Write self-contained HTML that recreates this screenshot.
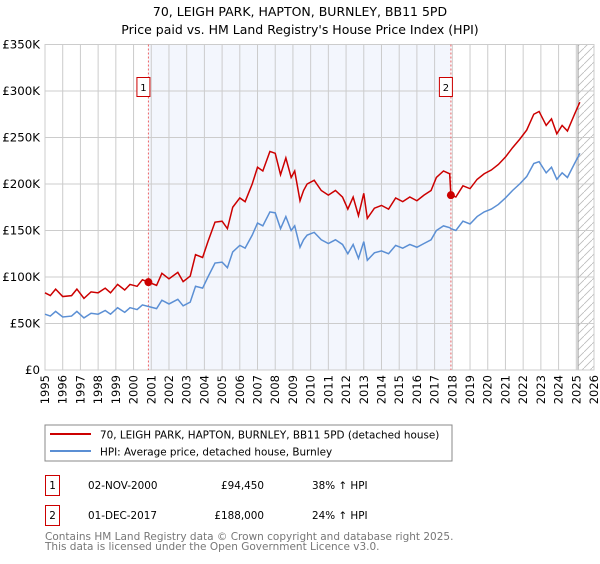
<!DOCTYPE html>
<html><head><meta charset="utf-8"><style>
body{margin:0;background:#fff;font-family:"DejaVu Sans","Liberation Sans",sans-serif;}
svg text{font-family:"DejaVu Sans","Liberation Sans",sans-serif;}
</style></head><body>
<svg id="c" width="600" height="560" xmlns="http://www.w3.org/2000/svg">
<defs><pattern id="hatch" patternUnits="userSpaceOnUse" width="8" height="8"><path d="M0,8 L8,0" stroke="#bbb" stroke-width="0.8"/></pattern></defs>
<text x="300" y="16" text-anchor="middle" font-size="12.5">70, LEIGH PARK, HAPTON, BURNLEY, BB11 5PD</text>
<text x="300" y="34" text-anchor="middle" font-size="12.5">Price paid vs. HM Land Registry's House Price Index (HPI)</text>
<g id="plot"></g>
<rect x="45" y="425" width="407" height="36" fill="#fff" stroke="#888"/>
<line x1="50" y1="434" x2="91" y2="434" stroke="#cc0000" stroke-width="2"/>
<text x="100" y="438.5" font-size="10.4">70, LEIGH PARK, HAPTON, BURNLEY, BB11 5PD (detached house)</text>
<line x1="50" y1="451" x2="91" y2="451" stroke="#5b8fd4" stroke-width="2"/>
<text x="100" y="455.5" font-size="10.4">HPI: Average price, detached house, Burnley</text>
<g>
<rect x="45.5" y="475.5" width="14" height="20" fill="#fff" stroke="#cc0000"/>
<text x="52.5" y="489" text-anchor="middle" font-size="10.4">1</text>
<text x="88" y="489" font-size="10.4">02-NOV-2000</text>
<text x="264" y="489" text-anchor="end" font-size="10.4">£94,450</text>
<text x="312" y="489" font-size="10.4">38% ↑ HPI</text></g>
<g>
<rect x="45.5" y="505.5" width="14" height="20" fill="#fff" stroke="#cc0000"/>
<text x="52.5" y="519" text-anchor="middle" font-size="10.4">2</text>
<text x="88" y="519" font-size="10.4">01-DEC-2017</text>
<text x="264" y="519" text-anchor="end" font-size="10.4">£188,000</text>
<text x="312" y="519" font-size="10.4">24% ↑ HPI</text></g>
<text x="45" y="540" font-size="10.5" fill="#777">Contains HM Land Registry data © Crown copyright and database right 2025.</text>
<text x="45" y="550" font-size="10.5" fill="#777">This data is licensed under the Open Government Licence v3.0.</text>
</svg>
<script>
const years=[1995.0,1995.3,1995.6,1996.0,1996.5,1996.8,1997.2,1997.6,1998.0,1998.4,1998.7,1999.1,1999.5,1999.8,2000.2,2000.5,2000.9,2001.3,2001.6,2002.0,2002.5,2002.8,2003.2,2003.5,2003.9,2004.2,2004.6,2005.0,2005.3,2005.6,2006.0,2006.3,2006.7,2007.0,2007.3,2007.7,2008.0,2008.3,2008.6,2008.9,2009.1,2009.4,2009.6,2009.8,2010.2,2010.6,2011.0,2011.4,2011.8,2012.1,2012.4,2012.7,2013.0,2013.2,2013.6,2014.0,2014.4,2014.8,2015.2,2015.6,2016.0,2016.4,2016.8,2017.1,2017.5,2017.85,2017.92,2018.2,2018.6,2019.0,2019.4,2019.8,2020.2,2020.6,2021.0,2021.4,2021.8,2022.2,2022.6,2022.9,2023.3,2023.6,2023.9,2024.2,2024.5,2024.9,2025.2];
const hpi=[60,58,63,57,58,63,56,61,60,64,60,67,62,67,65,70,68,66,75,71,76,69,73,90,88,100,115,116,110,127,134,131,145,158,155,170,169,152,165,150,155,132,140,145,148,140,136,140,135,125,135,120,138,118,126,128,125,134,131,135,132,136,140,150,155,153,152,150,160,157,165,170,173,178,185,193,200,208,222,224,212,218,205,212,207,222,233];
const price=[83,80,87,79,80,87,77,84,83,88,83,92,86,92,90,97,94,91,104,98,105,95,101,124,121,138,159,160,152,175,185,181,200,218,214,235,233,210,228,207,214,182,193,200,204,193,188,193,186,173,186,166,190,163,174,177,173,185,181,186,182,188,193,207,214,211,188,186,198,195,205,211,215,221,229,239,248,258,275,278,263,270,254,263,257,275,288];
const yTicks=[0,50,100,150,200,250,300,350];
const yTickLabels=["£0","£50K","£100K","£150K","£200K","£250K","£300K","£350K"];
const xTicks=[1995,1996,1997,1998,1999,2000,2001,2002,2003,2004,2005,2006,2007,2008,2009,2010,2011,2012,2013,2014,2015,2016,2017,2018,2019,2020,2021,2022,2023,2024,2025,2026];
const saleYears=[2000.84,2017.92];
const salePrices=[94.45,188];
const saleLabels=["1","2"];
const hatchStart=2025.1;

const L=45,R=594,T=44.5,B=370;
const X=y=>L+(y-1995)/(2026-1995)*(R-L);
const Y=v=>B-v/350*(B-T);
const NS="http://www.w3.org/2000/svg";
const g=document.getElementById('plot');
function mk(tag,attrs,parent){const e=document.createElementNS(NS,tag);for(const k in attrs)e.setAttribute(k,attrs[k]);(parent||g).appendChild(e);return e;}

let e=mk('rect',{x:X(saleYears[0]),y:T,width:X(saleYears[1])-X(saleYears[0]),height:B-T,fill:'#f3f6fd'});


e=mk('rect',{x:X(hatchStart),y:T,width:R-X(hatchStart),height:B-T,fill:'url(#hatch)'});


xTicks.forEach(t=>{
  e=mk('line',{x1:X(t),x2:X(t),y1:T,y2:B,stroke:'#ccc','stroke-width':1});
  
  
  e=mk('text',{transform:`translate(${X(t)+4},${B+5}) rotate(-90)`,'text-anchor':'end','font-size':'11.5'});
  e.textContent=t;
  
  
});
yTicks.forEach((t,i)=>{
  e=mk('line',{x1:L,x2:R,y1:Y(t),y2:Y(t),stroke:'#ccc','stroke-width':1});
  
  
  e=mk('text',{x:L-5,y:Y(t)+4,'text-anchor':'end','font-size':'11.8'});
  e.textContent=yTickLabels[i];
  
  
});
e=mk('line',{x1:X(hatchStart),x2:X(hatchStart),y1:T,y2:B,stroke:'#999','stroke-width':1});


e=mk('rect',{x:L,y:T,width:R-L,height:B-T,fill:'none',stroke:'#ccc'});


saleYears.forEach((s,i)=>{
  e=mk('line',{x1:X(s),x2:X(s),y1:T,y2:B,stroke:'#e66','stroke-width':1,'stroke-dasharray':'2,2'});
  
  
});
e=mk('polyline',{points:years.map((y,i)=>X(y)+','+Y(hpi[i])).join(' '),fill:'none',stroke:'#5b8fd4','stroke-width':1.5});


e=mk('polyline',{points:years.map((y,i)=>X(y)+','+Y(price[i])).join(' '),fill:'none',stroke:'#cc0000','stroke-width':1.5});


saleYears.forEach((s,i)=>{
  e=mk('circle',{cx:X(s),cy:Y(salePrices[i]),r:4,fill:'#cc0000'});
  
  
  e=mk('rect',{x:X(s)-11.5,y:77.5,width:13,height:19,fill:'#fff',stroke:'#cc0000'});
  
  
  e=mk('text',{x:X(s)-5,y:91,'text-anchor':'middle','font-size':'10'});
  e.textContent=saleLabels[i];
  
  
});
</script>
</body></html>
